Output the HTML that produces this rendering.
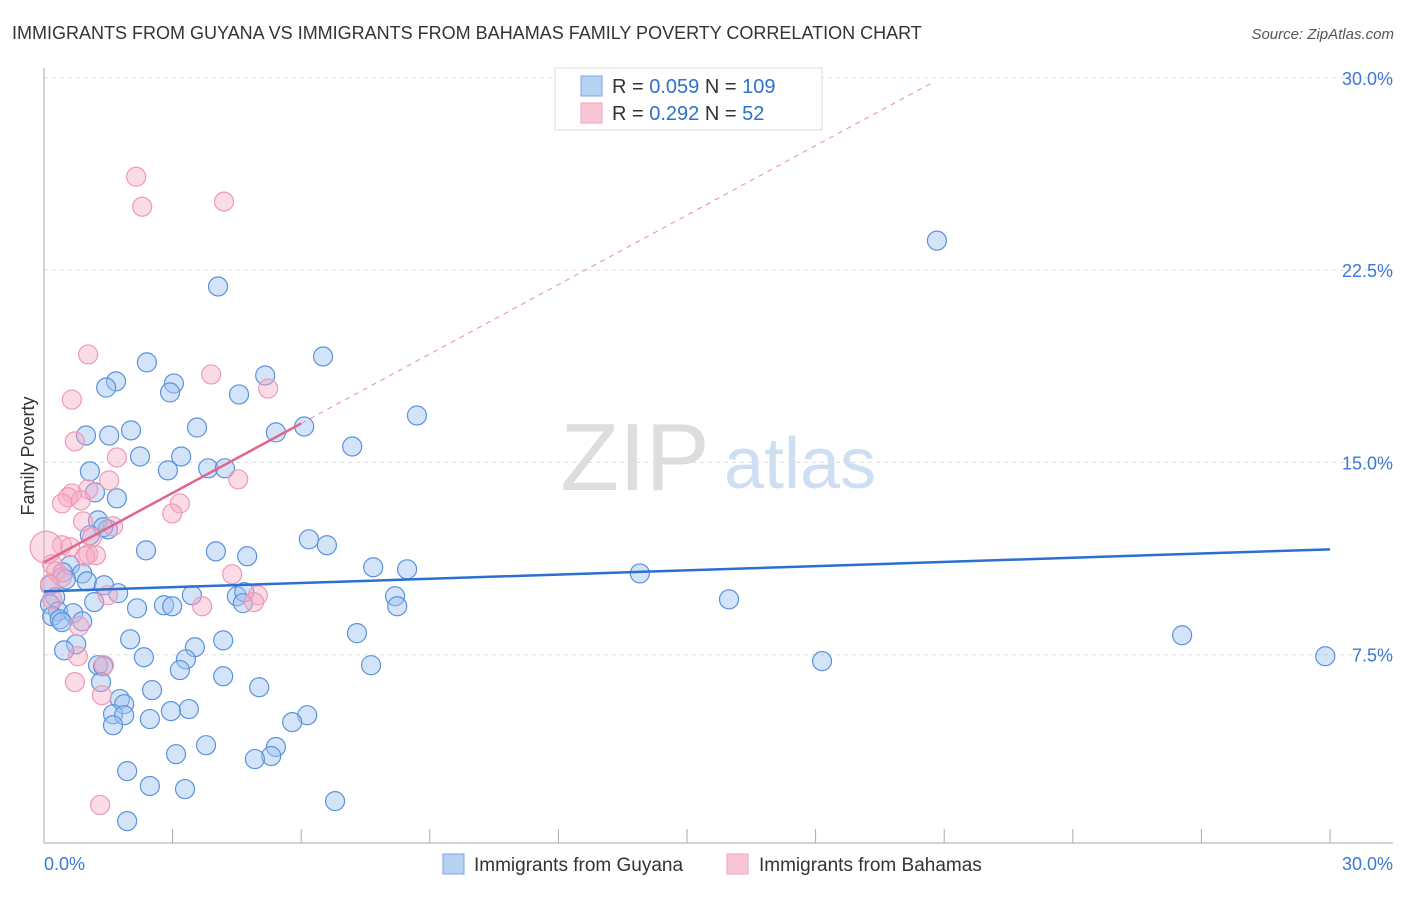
<!DOCTYPE html>
<html><head><meta charset="utf-8"><style>
body{margin:0;background:#fff;font-family:"Liberation Sans",sans-serif}
svg text{font-family:"Liberation Sans",sans-serif}
</style></head><body>
<svg id="chart" width="1406" height="892" xmlns="http://www.w3.org/2000/svg">
<text x="12" y="39" font-size="18" fill="#333">IMMIGRANTS FROM GUYANA VS IMMIGRANTS FROM BAHAMAS FAMILY POVERTY CORRELATION CHART</text>
<text x="1394" y="39" font-size="15" fill="#555" font-style="italic" text-anchor="end">Source: ZipAtlas.com</text>
<g>
<text x="635" y="490" font-size="96" font-family="Liberation Serif,serif" fill="#ddd" text-anchor="middle">ZIP</text>
<text x="800" y="488" font-size="72" fill="#cfdff3" text-anchor="middle">atlas</text>
</g>
<g id="grid"></g>
<g id="axes"></g>
<g id="marks"></g>
<text transform="translate(34,456) rotate(-90)" font-size="18" fill="#333" text-anchor="middle">Family Poverty</text>
<g>
<rect x="555" y="68" width="267" height="62" fill="#fff" stroke="#ddd"/>
<rect x="581" y="76" width="21" height="20" fill="#b7d1f4" stroke="#7aa6e0"/>
<rect x="581" y="103" width="21" height="20" fill="#f9c6d5" stroke="#eea0b8"/>
<text x="612" y="93" font-size="20" fill="#333">R = <tspan fill="#2f6fcf">0.059</tspan>   N = <tspan fill="#2f6fcf">109</tspan></text>
<text x="612" y="120" font-size="20" fill="#333">R =  <tspan fill="#2f6fcf">0.292</tspan>   N =   <tspan fill="#2f6fcf">52</tspan></text>
</g>
<g>
<rect x="443" y="854" width="21" height="20" fill="#b7d1f4" stroke="#7aa6e0"/>
<text x="474" y="871" font-size="19" fill="#333">Immigrants from Guyana</text>
<rect x="727" y="854" width="21" height="20" fill="#f9c6d5" stroke="#eea0b8"/>
<text x="759" y="871" font-size="19" fill="#333">Immigrants from Bahamas</text>
</g>
</svg>
<script>
const yTicks=[7.5,15,22.5,30];
const yTickLabels=["7.5%","15.0%","22.5%","30.0%"];
const xTickLabels=["0.0%","30.0%"];
const guyanaX=[20.83,4.06,6.51,2.40,5.16,1.68,1.45,3.03,2.94,4.55,8.70,6.07,3.57,5.41,2.03,1.52,0.98,7.19,2.24,3.20,2.89,3.83,4.22,1.07,1.19,1.70,1.26,1.49,1.38,1.07,6.18,6.60,2.38,4.01,4.74,7.68,8.47,13.90,0.61,0.44,0.89,0.51,1.00,1.40,0.14,0.26,0.14,0.33,0.19,0.37,1.73,1.17,3.45,4.50,4.67,4.64,2.80,2.99,2.17,8.19,8.24,15.98,0.68,0.89,0.42,7.30,26.55,2.01,4.18,0.75,0.47,3.52,2.33,7.63,18.15,29.89,3.31,1.26,1.38,3.17,4.18,1.33,2.52,5.02,1.77,1.87,1.61,1.87,3.38,2.96,2.47,6.14,5.79,1.61,3.78,3.08,5.41,5.30,4.92,1.94,2.47,3.29,6.79,1.94];
const guyanaY=[23.65,21.86,19.13,18.90,18.39,18.16,17.92,18.08,17.73,17.65,16.83,16.40,16.36,16.17,16.25,16.05,16.05,15.62,15.23,15.23,14.69,14.77,14.77,14.65,13.83,13.60,12.74,12.39,12.47,12.16,12.00,11.77,11.57,11.53,11.34,10.91,10.83,10.67,10.99,10.71,10.67,10.44,10.36,10.21,10.21,9.74,9.47,9.19,9.00,8.88,9.90,9.55,9.82,9.78,9.94,9.51,9.43,9.39,9.31,9.78,9.39,9.66,9.12,8.80,8.77,8.34,8.26,8.10,8.06,7.91,7.67,7.79,7.40,7.09,7.25,7.44,7.32,7.09,7.05,6.90,6.66,6.43,6.12,6.23,5.77,5.57,5.18,5.14,5.38,5.30,4.99,5.14,4.87,4.75,3.97,3.62,3.90,3.55,3.43,2.96,2.38,2.26,1.79,1.01];
const bahamasX=[2.15,2.29,4.20,1.03,3.90,5.23,0.65,0.72,1.70,4.53,1.52,1.03,0.65,0.56,0.42,0.86,3.17,2.99,0.91,1.61,1.12,0.42,0.61,0.05,1.03,1.21,0.96,0.19,0.28,0.42,0.14,4.39,1.49,4.99,4.90,3.69,0.19,0.82,0.79,1.40,0.72,1.35,1.31];
const bahamasY=[26.14,24.97,25.17,19.21,18.43,17.88,17.45,15.82,15.19,14.34,14.30,13.95,13.79,13.64,13.40,13.52,13.40,13.01,12.70,12.51,12.08,11.77,11.69,11.69,11.42,11.38,11.34,11.03,10.75,10.52,10.25,10.64,9.82,9.82,9.55,9.39,9.66,8.61,7.44,7.09,6.43,5.92,1.64];
const guyanaTrend=[9.97,11.61];      // value at x=0, x=30
const bahamasTrend=[11.10,0.903];    // intercept, slope
const NS="http://www.w3.org/2000/svg";
const X=v=>44+v/30*1286, Y=v=>847-v/7.5*192.3;
function mk(tag,attrs,parent){const e=document.createElementNS(NS,tag);for(const k in attrs)e.setAttribute(k,attrs[k]);parent.appendChild(e);return e;}
const grid=document.getElementById('grid'),axes=document.getElementById('axes'),marks=document.getElementById('marks');
yTicks.forEach((t,i)=>{
 const l=mk('line',{x1:44,x2:1393,y1:Y(t),y2:Y(t),stroke:'#ddd','stroke-dasharray':'4,4'},grid);
 
 
 const tx=mk('text',{x:1393,y:Y(t)+7,'font-size':18,fill:'#3b78d8','text-anchor':'end'},axes);
 tx.textContent=yTickLabels[i];
 
 
});
const ya=mk('line',{x1:44,x2:44,y1:68,y2:843,stroke:'#aaa'},axes);


const xa=mk('line',{x1:44,x2:1393,y1:843,y2:843,stroke:'#aaa'},axes);


for(let i=0;i<=10;i++){const t=mk('line',{x1:X(i*3),x2:X(i*3),y1:829,y2:843,stroke:'#aaa'},axes);
 
 }
const xl0=mk('text',{x:44,y:870,'font-size':18,fill:'#3b78d8'},axes);xl0.textContent=xTickLabels[0];


const xl1=mk('text',{x:1393,y:870,'font-size':18,fill:'#3b78d8','text-anchor':'end'},axes);xl1.textContent=xTickLabels[1];


// pink dashed extension
const bx1=6,bx2=20.7;
const pd=mk('line',{x1:X(bx1),y1:Y(bahamasTrend[0]+bahamasTrend[1]*bx1),x2:X(bx2),y2:Y(bahamasTrend[0]+bahamasTrend[1]*bx2),stroke:'#e98aa8','stroke-dasharray':'5,5','stroke-width':1},marks);


guyanaX.forEach((v,i)=>{const c=mk('circle',{cx:X(v),cy:Y(guyanaY[i]),r:9.5,fill:'rgba(160,196,240,0.45)',stroke:'#5b92dc','stroke-width':1.2},marks);
 
 });
bahamasX.forEach((v,i)=>{const c=mk('circle',{cx:X(v),cy:Y(bahamasY[i]),r:i==23?16:9.5,fill:'rgba(245,170,195,0.42)',stroke:'#ef9ab5','stroke-width':1.2},marks);
 
 });
const gl=mk('line',{x1:X(0),y1:Y(guyanaTrend[0]),x2:X(30),y2:Y(guyanaTrend[1]),stroke:'#2b6fd1','stroke-width':2.5},marks);


const bl=mk('line',{x1:X(0),y1:Y(bahamasTrend[0]),x2:X(6),y2:Y(bahamasTrend[0]+bahamasTrend[1]*6),stroke:'#e2658c','stroke-width':2.5},marks);


</script>
</body></html>
